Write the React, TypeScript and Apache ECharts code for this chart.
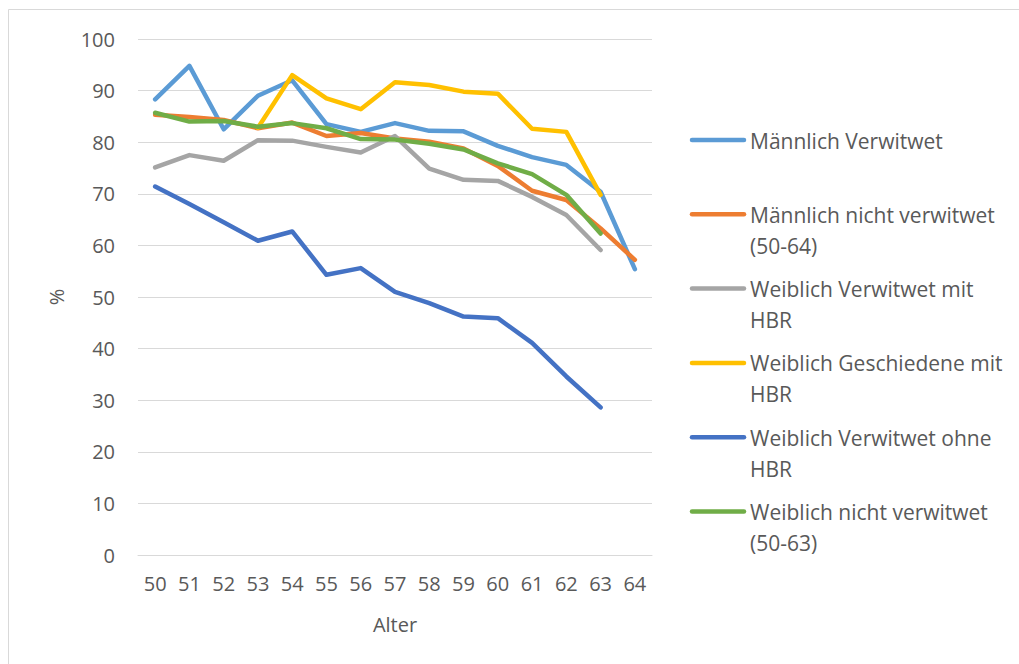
import React, { useEffect, useRef } from "react";
import * as echarts from "echarts";

const categories = ["50", "51", "52", "53", "54", "55", "56", "57", "58", "59", "60", "61", "62", "63", "64"];

const maennlichVerwitwet = [88.3, 94.8, 82.5, 89.0, 92.0, 83.5, 82.0, 83.7, 82.2, 82.1, 79.3, 77.1, 75.6, 70.4, 55.4];
const maennlichNichtVerwitwet = [85.3, 84.9, 84.3, 82.7, 83.8, 81.2, 81.8, 80.7, 80.1, 78.8, 75.4, 70.6, 68.8, 63.3, 57.2];
const weiblichVerwitwetMitHBR = [75.1, 77.5, 76.4, 80.4, 80.3, 79.1, 78.0, 81.2, 74.9, 72.7, 72.5, 69.4, 65.9, 59.1, null];
const weiblichGeschiedeneMitHBR = [null, null, null, 82.8, 93.0, 88.5, 86.4, 91.6, 91.1, 89.8, 89.4, 82.6, 82.0, 69.8, null];
const weiblichVerwitwetOhneHBR = [71.4, 68.0, 64.5, 60.9, 62.7, 54.3, 55.6, 51.0, 48.8, 46.2, 45.9, 41.1, 34.6, 28.6, null];
const weiblichNichtVerwitwet = [85.7, 84.0, 84.1, 83.0, 83.7, 82.7, 80.6, 80.5, 79.7, 78.6, 75.9, 73.8, 69.8, 62.3, null];

const seriesNames = [
  "Männlich Verwitwet",
  "Männlich nicht verwitwet (50-64)",
  "Weiblich Verwitwet mit HBR",
  "Weiblich Geschiedene mit HBR",
  "Weiblich Verwitwet ohne HBR",
  "Weiblich nicht verwitwet (50-63)",
];
const legendLabels = [
  "Männlich Verwitwet",
  "Männlich nicht verwitwet\n(50-64)",
  "Weiblich Verwitwet mit\nHBR",
  "Weiblich Geschiedene mit\nHBR",
  "Weiblich Verwitwet ohne\nHBR",
  "Weiblich nicht verwitwet\n(50-63)",
];
const seriesData = [
  maennlichVerwitwet,
  maennlichNichtVerwitwet,
  weiblichVerwitwetMitHBR,
  weiblichGeschiedeneMitHBR,
  weiblichVerwitwetOhneHBR,
  weiblichNichtVerwitwet,
];
const colors = ["#5B9BD5", "#ED7D31", "#A5A5A5", "#FFC000", "#4472C4", "#70AD47"];

const FONT = "'Open Sans'";
const TEXT_COLOR = "#595959";

export default function App() {
  const ref = useRef<HTMLDivElement>(null);
  useEffect(() => {
    if (!ref.current) return;
    const chart = echarts.init(ref.current, undefined, { renderer: "svg" });
    const legendGraphics: any[] = [];
    const legendTop = 140;
    const legendStep = 74.3;
    seriesNames.forEach((_, i) => {
      const y = legendTop + i * legendStep;
      legendGraphics.push({
        type: "line",
        shape: { x1: 692, y1: y, x2: 744, y2: y },
        style: { stroke: colors[i], lineWidth: 4.5, lineCap: "round" },
      });
      legendGraphics.push({
        type: "text",
        x: 750,
        y: y - 15,
        style: {
          text: legendLabels[i],
          fill: TEXT_COLOR,
          font: `21px ${FONT}`,
          lineHeight: 31,
          verticalAlign: "top",
        },
      });
    });
    chart.setOption({
      animation: false,
      backgroundColor: "#ffffff",
      grid: { left: 138, right: 367, top: 39, bottom: 109, containLabel: false },
      xAxis: {
        type: "category",
        data: categories,
        boundaryGap: true,
        name: "Alter",
        nameLocation: "middle",
        nameGap: 59,
        nameTextStyle: { color: TEXT_COLOR, fontFamily: FONT, fontSize: 20 },
        axisLine: { show: true, lineStyle: { color: "#D9D9D9", width: 1 } },
        axisTick: { show: false },
        axisLabel: { color: TEXT_COLOR, fontFamily: FONT, fontSize: 20, margin: 18, interval: 0 },
      },
      yAxis: {
        type: "value",
        min: 0,
        max: 100,
        interval: 10,
        name: "%",
        nameLocation: "middle",
        nameRotate: 90,
        nameGap: 72,
        nameTextStyle: { color: TEXT_COLOR, fontFamily: FONT, fontSize: 20 },
        axisLine: { show: false },
        axisTick: { show: false },
        axisLabel: { color: TEXT_COLOR, fontFamily: FONT, fontSize: 20, margin: 23 },
        splitLine: { show: true, lineStyle: { color: "#D9D9D9", width: 1 } },
      },
      series: seriesNames.map((name, i) => ({
        name,
        type: "line",
        data: seriesData[i],
        symbol: "none",
        connectNulls: false,
        lineStyle: { color: colors[i], width: 4.5, cap: "round", join: "round" },
        itemStyle: { color: colors[i] },
        z: 2 + i,
      })),
      graphic: [
        {
          type: "rect",
          shape: { x: 8.5, y: 9.5, width: 1100, height: 700 },
          style: { fill: "none", stroke: "#D9D9D9", lineWidth: 1 },
          silent: true,
        },
        ...legendGraphics,
      ],
    });
    return () => chart.dispose();
  }, []);
  return (
    <div
      ref={ref}
      style={{ position: "fixed", left: 0, top: 0, width: 1019, height: 664, background: "#fff" }}
    />
  );
}
